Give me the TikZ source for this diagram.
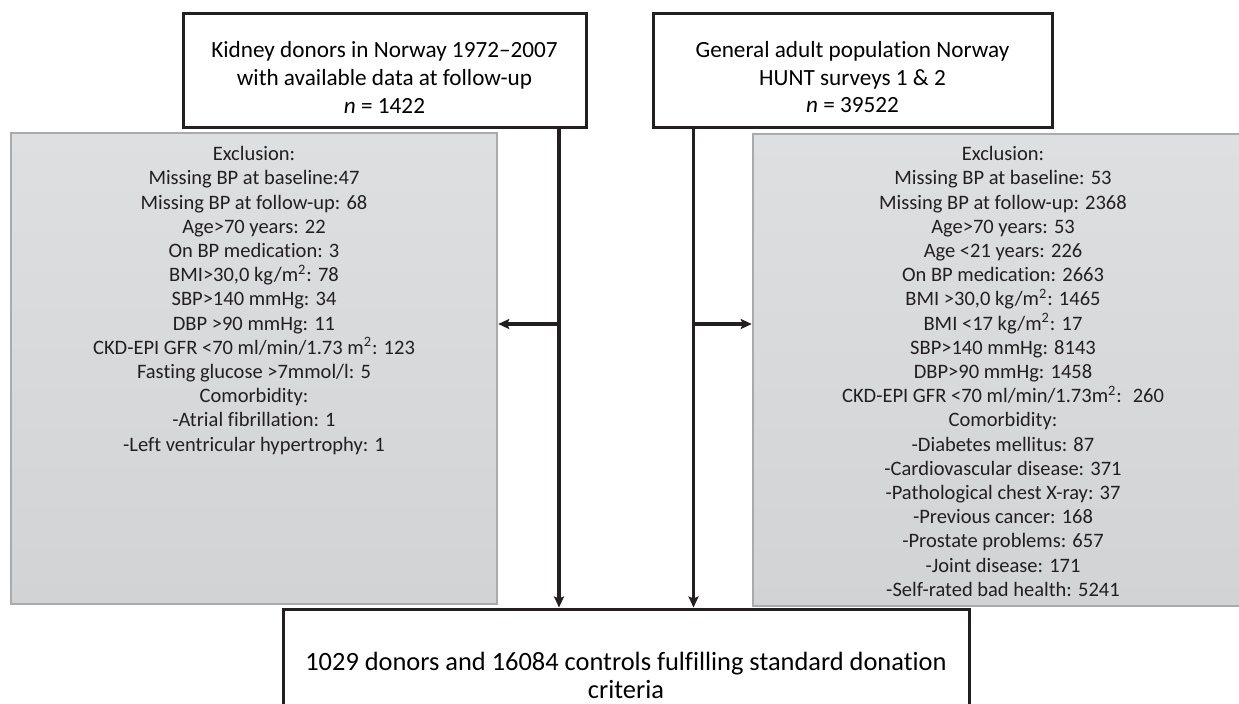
\documentclass[tikz,border=0pt]{standalone}
\usepackage{fontspec}
\setmainfont{Carlito}[Ligatures={NoCommon}]
\usetikzlibrary{arrows.meta}
\definecolor{exclborder}{HTML}{A9AAAC}
\definecolor{excltop}{HTML}{DEDFE1}
\definecolor{exclbot}{HTML}{D2D3D5}
\definecolor{linegray}{HTML}{231F20}
\newcommand\topgap{\rule{0pt}{15.2pt}}
\begin{document}
\begin{tikzpicture}[x=0.5pt,y=-0.5pt]
\tikzstyle{source} = [draw=linegray,line width=1.5pt,inner sep=0pt,align=center,font=\fontsize{11.6}{13.9}\selectfont,minimum height=57pt]
\tikzstyle{excl} = [draw=exclborder,line width=1.25pt,top color=excltop,bottom color=exclbot,inner sep=0pt]
\tikzstyle{excltext} = [anchor=north,inner sep=0pt,align=center,font=\fontsize{10.25}{12.1}\selectfont,text=linegray]
\tikzstyle{conn} = [draw=linegray,line width=1.6pt,-{Stealth[length=5.5pt,width=5pt,inset=1pt]}]
\useasboundingbox (0,0) rectangle (1239,703);
\clip (0,0) rectangle (1239,703);
% sources
\node[source,minimum width=201.5pt] (donors) at (384.5,70) {\topgap Kidney donors in Norway 1972--2007\\with available data at follow-up\\\textit{n} = 1422};
\node[source,minimum width=199.5pt] (hunt) at (852.5,70) {\topgap General adult population Norway\\HUNT surveys 1 \& 2\\\textit{n} = 39522};
% exclusion boxes
\node[excl,minimum width=243pt,minimum height=235.5pt] (exclL) at (254,368.5) {};
\node[excl,minimum width=250pt,minimum height=236pt] (exclR) at (1003,370) {};
\node[excltext] (exclLtxt) at (254,146) {Exclusion:\\Missing BP at baseline:47\\Missing BP at follow-up: 68\\Age>70 years: 22\\On BP medication: 3\\BMI>30,0 kg/m\textsuperscript{2}: 78\\SBP>140 mmHg: 34\\DBP >90 mmHg: 11\\CKD-EPI GFR <70 ml/min/1.73 m\textsuperscript{2}: 123\\Fasting glucose >7mmol/l: 5\\Comorbidity:\\-Atrial fibrillation: 1\\-Left ventricular hypertrophy: 1};
\node[excltext] (exclRtxt) at (1003,146) {Exclusion:\\Missing BP at baseline: 53\\Missing BP at follow-up: 2368\\Age>70 years: 53\\Age <21 years: 226\\On BP medication: 2663\\BMI >30,0 kg/m\textsuperscript{2}: 1465\\BMI <17 kg/m\textsuperscript{2}: 17\\SBP>140 mmHg: 8143\\DBP>90 mmHg: 1458\\CKD-EPI GFR <70 ml/min/1.73m\textsuperscript{2}:~ 260\\Comorbidity:\\-Diabetes mellitus: 87\\-Cardiovascular disease: 371\\-Pathological chest X-ray: 37\\-Previous cancer: 168\\-Prostate problems: 657\\-Joint disease: 171\\-Self-rated bad health: 5241};
% result
\node[source,minimum width=343pt,minimum height=66pt,font=\fontsize{13.2}{14}\selectfont] (result) at (626,675) {1029 donors and 16084 controls fulfilling standard donation\\criteria};
% connectors
\coordinate (tapL) at (559,324);
\coordinate (tapR) at (693.5,324);
\draw[conn] (donors.south -| tapL) -- (result.north -| tapL);
\draw[conn] (hunt.south -| tapR) -- (result.north -| tapR);
\draw[conn] (tapL) -- (tapL -| exclL.east);
\draw[conn] (tapR) -- (tapR -| exclR.west);
\end{tikzpicture}
\end{document}
